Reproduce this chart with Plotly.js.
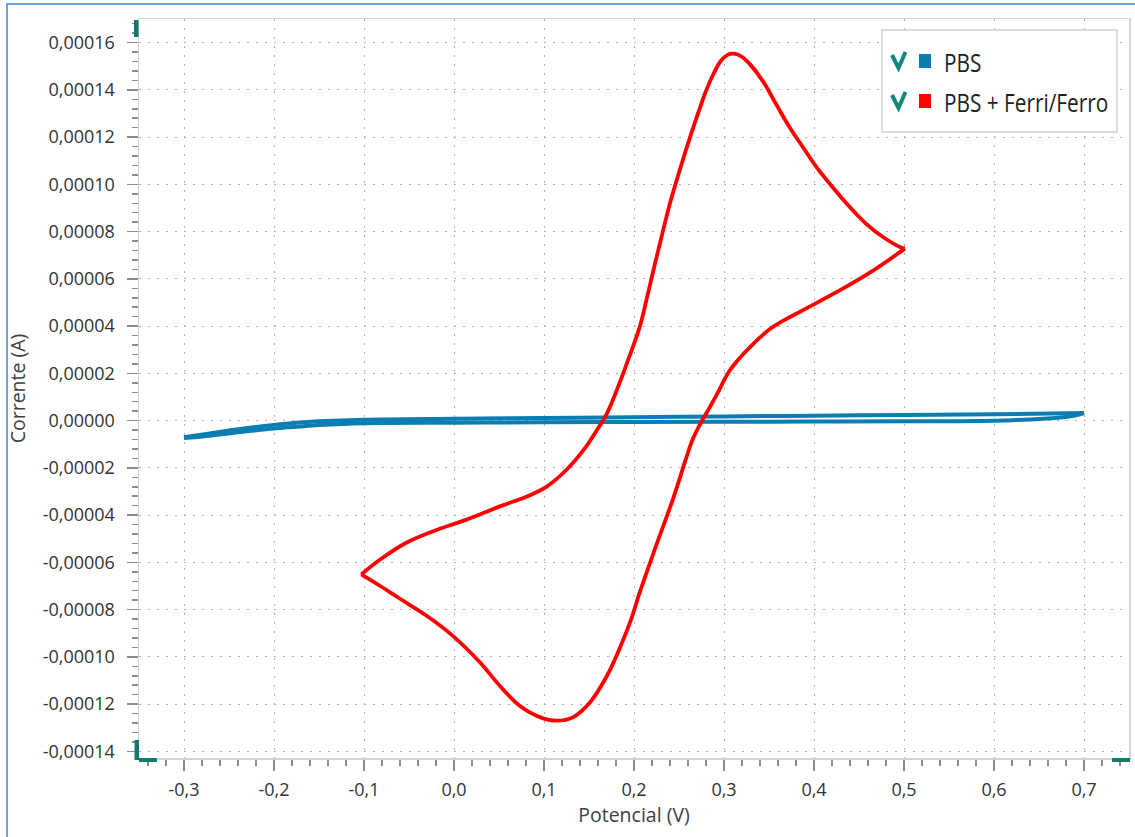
<!DOCTYPE html>
<html>
<head>
<meta charset="utf-8">
<script src="https://cdn.plot.ly/plotly-3.0.1.min.js"></script>
<style>
  html, body { margin:0; padding:0; background:#fff; }
  #wrap { position:relative; width:1135px; height:837px; overflow:hidden; }
  #chart { position:absolute; left:0; top:0; width:1135px; height:837px; }
  #frame { position:absolute; left:6px; top:3px; width:1140px; height:850px;
           border-left:2px solid #6aa3db; border-top:2px solid #6aa3db; pointer-events:none; }
</style>
</head>
<body>
<div id="wrap"><div id="chart"></div><div id="frame"></div></div>
<script>
// ---- data ----
// PBS (blue) : forward and reverse scan
const pbsPotFwd = [-0.300, -0.275, -0.250, -0.225, -0.200, -0.175, -0.150, -0.100, 0.000, 0.100, 0.200, 0.300, 0.400, 0.500, 0.600, 0.700];
const pbsCurFwd = [-0.70e-5, -0.56e-5, -0.42e-5, -0.29e-5, -0.18e-5, -0.09e-5, -0.03e-5, 0.04e-5, 0.08e-5, 0.11e-5, 0.14e-5, 0.18e-5, 0.21e-5, 0.24e-5, 0.27e-5, 0.32e-5];
const pbsPotRev = [0.700, 0.690, 0.670, 0.640, 0.600, 0.500, 0.400, 0.300, 0.200, 0.100, 0.000, -0.100, -0.150, -0.175, -0.200, -0.225, -0.250, -0.275, -0.300];
const pbsCurRev = [0.32e-5, 0.22e-5, 0.12e-5, 0.05e-5, 0.00e-5, -0.03e-5, -0.04e-5, -0.05e-5, -0.06e-5, -0.07e-5, -0.09e-5, -0.11e-5, -0.19e-5, -0.26e-5, -0.33e-5, -0.43e-5, -0.54e-5, -0.65e-5, -0.74e-5];

// PBS + Ferri/Ferro (red) : forward (anodic) scan from -0.1 V to 0.5 V
const ferPotFwd = [-0.103, -0.082, -0.053, -0.023, 0.014, 0.051, 0.081, 0.103, 0.125, 0.144, 0.159, 0.170, 0.181, 0.194, 0.207, 0.215, 0.224, 0.232, 0.240, 0.248, 0.256, 0.264, 0.272, 0.280, 0.288, 0.296, 0.304, 0.311, 0.320, 0.329, 0.343, 0.358, 0.373, 0.388, 0.403, 0.421, 0.440, 0.458, 0.477, 0.496, 0.501];
const ferCurFwd = [-6.51e-5, -5.88e-5, -5.17e-5, -4.68e-5, -4.19e-5, -3.63e-5, -3.21e-5, -2.79e-5, -2.08e-5, -1.24e-5, -0.39e-5, 0.31e-5, 1.30e-5, 2.62e-5, 4.05e-5, 5.30e-5, 6.75e-5, 8.00e-5, 9.20e-5, 10.25e-5, 11.25e-5, 12.20e-5, 13.10e-5, 13.95e-5, 14.65e-5, 15.20e-5, 15.48e-5, 15.53e-5, 15.40e-5, 15.08e-5, 14.38e-5, 13.39e-5, 12.41e-5, 11.56e-5, 10.72e-5, 9.87e-5, 9.03e-5, 8.33e-5, 7.76e-5, 7.34e-5, 7.28e-5];
// reverse (cathodic) scan from 0.5 V back to -0.1 V
const ferPotRev = [0.501, 0.466, 0.429, 0.391, 0.362, 0.350, 0.340, 0.330, 0.321, 0.313, 0.306, 0.300, 0.295, 0.289, 0.284, 0.275, 0.265, 0.258, 0.243, 0.223, 0.207, 0.196, 0.184, 0.170, 0.151, 0.132, 0.114, 0.096, 0.073, 0.051, 0.029, -0.001, -0.030, -0.060, -0.082, -0.103];
const ferCurRev = [7.28e-5, 6.36e-5, 5.52e-5, 4.74e-5, 4.15e-5, 3.85e-5, 3.52e-5, 3.15e-5, 2.80e-5, 2.45e-5, 2.10e-5, 1.70e-5, 1.32e-5, 0.90e-5, 0.55e-5, -0.04e-5, -0.81e-5, -1.59e-5, -3.35e-5, -5.46e-5, -7.20e-5, -8.50e-5, -9.65e-5, -10.80e-5, -11.93e-5, -12.56e-5, -12.70e-5, -12.56e-5, -12.07e-5, -11.23e-5, -10.24e-5, -9.12e-5, -8.27e-5, -7.54e-5, -7.00e-5, -6.51e-5];

// tick labels
const xTickVals = [-0.3, -0.2, -0.1, 0.0, 0.1, 0.2, 0.3, 0.4, 0.5, 0.6, 0.7];
const xTickText = ['-0,3', '-0,2', '-0,1', '0,0', '0,1', '0,2', '0,3', '0,4', '0,5', '0,6', '0,7'];
const yTickVals = [-0.00014, -0.00012, -0.00010, -0.00008, -0.00006, -0.00004, -0.00002, 0, 0.00002, 0.00004, 0.00006, 0.00008, 0.00010, 0.00012, 0.00014, 0.00016];
const yTickText = ['-0,00014', '-0,00012', '-0,00010', '-0,00008', '-0,00006', '-0,00004', '-0,00002', '0,00000', '0,00002', '0,00004', '0,00006', '0,00008', '0,00010', '0,00012', '0,00014', '0,00016'];

const seriesNames = ['PBS', 'PBS + Ferri/Ferro'];
const seriesColors = ['#0a7db2', '#ff0000'];

// ---- layout helpers (pixel -> paper) ----
const M = {l:139, r:6, t:19, b:79};
const PW = 1135 - M.l - M.r, PH = 837 - M.t - M.b;
const px = v => (v - M.l) / PW;
const py = v => (837 - M.b - v) / PH;

const traces = [
  {x: pbsPotFwd, y: pbsCurFwd, mode:'lines', line:{color:seriesColors[0], width:4, shape:'spline', smoothing:1}, name:seriesNames[0]},
  {x: pbsPotRev, y: pbsCurRev, mode:'lines', line:{color:seriesColors[0], width:4, shape:'spline', smoothing:1}, name:seriesNames[0]},
  {x: ferPotFwd, y: ferCurFwd, mode:'lines', line:{color:seriesColors[1], width:3.8, shape:'spline', smoothing:1}, name:seriesNames[1]},
  {x: ferPotRev, y: ferCurRev, mode:'lines', line:{color:seriesColors[1], width:3.8, shape:'spline', smoothing:1}, name:seriesNames[1]}
];

const teal = '#0e7b6c';
const shapes = [
  // legend box
  {type:'rect', xref:'paper', yref:'paper', x0:px(882), x1:px(1117), y0:py(30), y1:py(132),
   line:{color:'#d2d2d2', width:1.5}, fillcolor:'#ffffff', layer:'above'},
  // check marks
  {type:'path', xref:'paper', yref:'paper', layer:'above',
   path:`M ${px(892)} ${py(55)} L ${px(898.5)} ${py(68)} L ${px(905.5)} ${py(52)}`, line:{color:'#17877d', width:4}},
  {type:'path', xref:'paper', yref:'paper', layer:'above',
   path:`M ${px(892)} ${py(95)} L ${px(898.5)} ${py(108)} L ${px(905.5)} ${py(92)}`, line:{color:'#17877d', width:4}},
  // colour squares
  {type:'rect', xref:'paper', yref:'paper', x0:px(919), x1:px(931), y0:py(54), y1:py(68), line:{width:0}, fillcolor:seriesColors[0], layer:'above'},
  {type:'rect', xref:'paper', yref:'paper', x0:px(919), x1:px(931), y0:py(94), y1:py(108), line:{width:0}, fillcolor:seriesColors[1], layer:'above'},
  // teal corner handles
  {type:'rect', xref:'paper', yref:'paper', x0:px(134), x1:px(138.5), y0:py(20), y1:py(37), line:{width:0}, fillcolor:teal, layer:'above'},
  {type:'rect', xref:'paper', yref:'paper', x0:px(134.5), x1:px(139), y0:py(740), y1:py(760), line:{width:0}, fillcolor:teal, layer:'above'},
  {type:'rect', xref:'paper', yref:'paper', x0:px(139), x1:px(157), y0:py(758), y1:py(762), line:{width:0}, fillcolor:teal, layer:'above'},
  {type:'rect', xref:'paper', yref:'paper', x0:px(1112), x1:px(1130), y0:py(758), y1:py(762), line:{width:0}, fillcolor:teal, layer:'above'}
];

const legendFont = {family:'"Open Sans", "Noto Sans", sans-serif', size:26, color:'#1e1e1e'};
const annotations = [
  {xref:'paper', yref:'paper', x:px(942), y:py(62), xanchor:'left', yanchor:'middle', text:seriesNames[0], showarrow:false, font:legendFont},
  {xref:'paper', yref:'paper', x:px(942), y:py(102), xanchor:'left', yanchor:'middle', text:seriesNames[1], showarrow:false, font:legendFont}
];

const tickGrey = '#8c8c8c';
const axisCommon = {
  tickmode:'array', ticks:'outside', ticklen:11, tickwidth:1.5, tickcolor:tickGrey,
  showline:true, linecolor:'#d4d4d4', linewidth:1.5, mirror:true,
  showgrid:true, gridcolor:'#b0b0b0', gridwidth:1, griddash:'2px,7px',
  zeroline:false, tickfont:{size:18, color:'#333333'}
};

const layout = {
  width:1135, height:837,
  margin:M,
  paper_bgcolor:'rgba(0,0,0,0)', plot_bgcolor:'#ffffff',
  font:{family:'"Open Sans", "Noto Sans", sans-serif', color:'#333333'},
  showlegend:false,
  xaxis: Object.assign({}, axisCommon, {
    range:[-0.35, 0.75], tickvals:xTickVals, ticktext:xTickText, ticklabelstandoff:4,
    minor:{tickmode:'linear', tick0:0, dtick:0.02, ticks:'outside', ticklen:6, tickwidth:1.5, tickcolor:tickGrey, showgrid:false},
    title:{text:'Potencial (V)', font:{size:19.5, color:'#404040'}, standoff:1}
  }),
  yaxis: Object.assign({}, axisCommon, {
    range:[-0.0001428, 0.00017], tickvals:yTickVals, ticktext:yTickText, ticklabelstandoff:8,
    minor:{tickmode:'linear', tick0:0, dtick:0.000004, ticks:'outside', ticklen:6, tickwidth:1.5, tickcolor:tickGrey, showgrid:false},
    title:{text:'Corrente (A)', font:{size:19.5, color:'#404040'}, standoff:12}
  }),
  shapes: shapes,
  annotations: annotations
};

Plotly.newPlot('chart', traces, layout, {displayModeBar:false, staticPlot:true}).then(() => {
  // the legend text of the reference is a narrow face: squeeze it horizontally about its left edge
  document.querySelectorAll('#chart .annotation-text').forEach(t => {
    const bb = t.getBBox();
    const x0 = bb.x;
    const prev = t.getAttribute('transform') || '';
    t.setAttribute('transform', `translate(${x0} 0) scale(0.8 1) translate(${-x0} 0) ${prev}`);
  });
});
</script>
</body>
</html>
